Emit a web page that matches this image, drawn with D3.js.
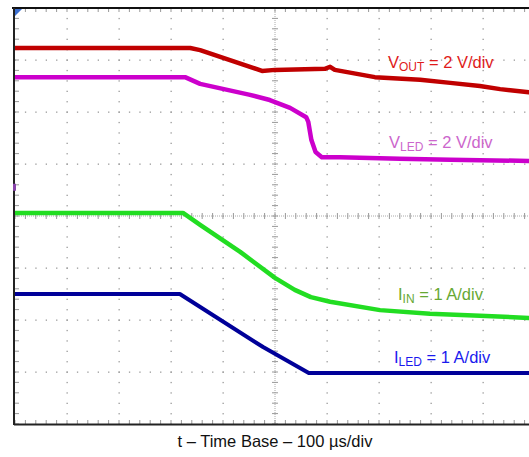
<!DOCTYPE html>
<html><head><meta charset="utf-8">
<script src="https://cdn.jsdelivr.net/npm/d3@7"></script>
<style>body{margin:0;background:#fff}svg{display:block}text{font-family:"Liberation Sans",Arial,sans-serif}</style>
</head><body><script>
// time in µs (100 µs/div), values in scope divisions (center = 0)
const voutT = [0, 337, 356, 475, 500, 596, 606, 615, 692, 779, 837, 894, 933, 988, 1000];
const voutV = [3.23, 3.23, 3.19, 2.79, 2.81, 2.83, 2.87, 2.81, 2.67, 2.62, 2.56, 2.50, 2.44, 2.38, 2.37];
const vledT = [0, 327, 356, 452, 490, 529, 560, 564, 570, 578, 590, 625, 740, 837, 988, 1000];
const vledV = [2.67, 2.67, 2.54, 2.33, 2.23, 2.08, 1.90, 1.81, 1.46, 1.23, 1.13, 1.13, 1.10, 1.08, 1.06, 1.06];
const iinT = [0, 323, 356, 433, 500, 538, 569, 606, 702, 798, 894, 988, 1000];
const iinV = [0.06, 0.06, -0.17, -0.69, -1.19, -1.42, -1.56, -1.65, -1.81, -1.88, -1.92, -1.96, -1.96];
const iledT = [0, 317, 477, 565, 988, 1000];
const iledV = [-1.50, -1.50, -2.52, -3.02, -3.02, -3.02];
const labelMain = ["V", "V", "I", "I"];
const labelSub = ["OUT", "LED", "IN", "LED"];
const labelRest = [" = 2 V/div", " = 2 V/div", " = 1 A/div", " = 1 A/div"];
const xTitle = "t – Time Base – 100 µs/div";

const W = 529, H = 457;
const svg = d3.select("body").append("svg").attr("width", W).attr("height", H);
svg.append("rect").attr("width", W).attr("height", H).attr("fill", "#fff");
const x = d3.scaleLinear().domain([0, 1000]).range([15, 535]);
const y = d3.scaleLinear().domain([-4, 4]).range([424, 8]);

svg.append("clipPath").attr("id", "c").append("rect").attr("x", 15).attr("y", 8).attr("width", W - 15).attr("height", 416);
const g = svg.append("g").attr("clip-path", "url(#c)");

// dotted grid
const divsX = d3.range(0, 1001, 100), divsY = d3.range(-4, 5, 1);
const minorX = d3.range(0, 1001, 20), minorY = d3.range(-4, 4.01, 0.2);
divsY.forEach(dv => {
  if (dv === 0 || dv === 4 || dv === -4) return;
  minorX.forEach(t => g.append("rect").attr("x", x(t) - 0.5).attr("y", y(dv) - 0.5).attr("width", 1.3).attr("height", 1.3).attr("fill", "#999"));
});
divsX.forEach(t => {
  if (t === 500 || t === 0) return;
  minorY.forEach(dv => g.append("rect").attr("x", x(t) - 0.5).attr("y", y(dv) - 0.5).attr("width", 1.3).attr("height", 1.3).attr("fill", "#999"));
});
// center cross with fine dots and ticks
g.append("line").attr("x1", 15).attr("x2", W).attr("y1", y(0)).attr("y2", y(0)).attr("stroke", "#aaa").attr("stroke-width", 1).attr("stroke-dasharray", "1,1");
g.append("line").attr("x1", x(500)).attr("x2", x(500)).attr("y1", 8).attr("y2", 424).attr("stroke", "#aaa").attr("stroke-width", 1).attr("stroke-dasharray", "1,1");
minorX.forEach(t => g.append("line").attr("x1", x(t)).attr("x2", x(t)).attr("y1", y(0) - 3).attr("y2", y(0) + 3).attr("stroke", "#999"));
minorY.forEach(dv => g.append("line").attr("x1", x(500) - 3).attr("x2", x(500) + 3).attr("y1", y(dv)).attr("y2", y(dv)).attr("stroke", "#999"));
// border ticks
minorX.forEach(t => {
  g.append("line").attr("x1", x(t)).attr("x2", x(t)).attr("y1", 8).attr("y2", 12).attr("stroke", "#999");
  g.append("line").attr("x1", x(t)).attr("x2", x(t)).attr("y1", 420).attr("y2", 424).attr("stroke", "#999");
});
minorY.forEach(dv => g.append("line").attr("x1", 15).attr("x2", 19).attr("y1", y(dv)).attr("y2", y(dv)).attr("stroke", "#999"));

// traces
const line = d3.line().x(d => x(d[0])).y(d => y(d[1]));
const traces = [
  [voutT, voutV, "#c00000", 4.5],
  [vledT, vledV, "#cc00cc", 4.5],
  [iinT, iinV, "#22dd22", 4.5],
  [iledT, iledV, "#000099", 4]
];
traces.forEach(([T, V, col, w]) => {
  g.append("path").datum(T.map((t, i) => [t, V[i]])).attr("d", line)
    .attr("fill", "none").attr("stroke", col).attr("stroke-width", w).attr("stroke-linejoin", "round");
});

// frame
svg.append("line").attr("x1", 12).attr("x2", W).attr("y1", 8).attr("y2", 8).attr("stroke", "#111").attr("stroke-width", 2);
svg.append("line").attr("x1", 14).attr("x2", W).attr("y1", 424.5).attr("y2", 424.5).attr("stroke", "#222").attr("stroke-width", 2);
svg.append("line").attr("x1", 14).attr("x2", 14).attr("y1", 8).attr("y2", 425).attr("stroke", "#222").attr("stroke-width", 2);
// markers
svg.append("path").attr("d", `M15,9 L22,9 L15,16 Z`).attr("fill", "#3b6fd0");
svg.append("rect").attr("x", 13).attr("y", y(0.62)).attr("width", 3).attr("height", 7).attr("fill", "#8844aa");

// labels
const labelX = [388, 389, 398, 394];
const labelY = [68, 148, 300, 363];
const labelCol = ["#e01b1b", "#cc66cc", "#66a833", "#1a1aee"];
labelMain.forEach((m, i) => {
  const t = svg.append("text").attr("x", labelX[i]).attr("y", labelY[i]).attr("fill", labelCol[i]).attr("font-size", 16.5);
  t.append("tspan").text(m);
  t.append("tspan").text(labelSub[i]).attr("font-size", 12).attr("dy", 3);
  t.append("tspan").text(labelRest[i]).attr("dy", -3);
});
svg.append("text").attr("x", x(500)).attr("y", 447).attr("text-anchor", "middle").attr("font-size", 16.5).attr("fill", "#111").text(xTitle);
</script></body></html>
